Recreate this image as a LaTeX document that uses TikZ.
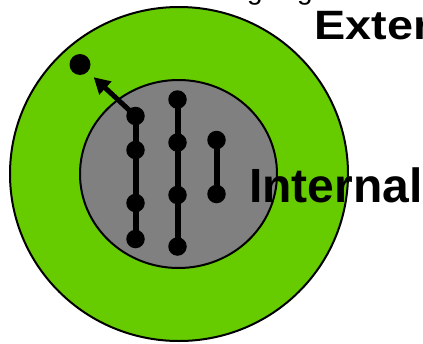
\documentclass[tikz,border=0pt]{standalone}
\usepackage{fontspec}
\setmainfont{Liberation Sans}
\usetikzlibrary{arrows.meta}
\definecolor{ringgreen}{HTML}{66CC00}
\definecolor{coregray}{HTML}{808080}
\tikzset{
  dotnode/.style={circle,fill=black,inner sep=0pt,minimum size=18.5pt},
  bigdot/.style={circle,fill=black,inner sep=0pt,minimum size=21pt},
  chain/.style={line width=6pt,black},
  pointer/.style={line width=5pt,black,-{Triangle[length=16pt,width=17pt]},shorten >=8pt},
  region/.style={line width=2pt,draw=black},
  bigtext/.style={font=\bfseries,inner sep=0pt,anchor=base west},
}
\begin{document}
\begin{tikzpicture}[x=1pt,y=-1pt]
\useasboundingbox (0,0) rectangle (423,343);
% regions
\draw[region,fill=ringgreen] (179,174) ellipse [x radius=169,y radius=167];
\draw[region,fill=coregray] (178.5,174) ellipse [x radius=98.5,y radius=94];
% dots
\node[dotnode] (a1) at (135.5,116) {};
\node[dotnode] (a2) at (135.5,150) {};
\node[dotnode] (a3) at (135.5,203) {};
\node[dotnode] (a4) at (135.5,239) {};
\node[dotnode] (b1) at (177.5,99.5) {};
\node[dotnode] (b2) at (177.5,142.5) {};
\node[dotnode] (b3) at (177.5,195) {};
\node[dotnode] (b4) at (177.5,246.5) {};
\node[dotnode] (c1) at (216.5,140) {};
\node[dotnode] (c2) at (216.5,194) {};
\node[bigdot] (free) at (80,64.5) {};
% chains
\draw[chain] (a1.center) -- (a2.center) -- (a3.center) -- (a4.center);
\draw[chain] (b1.center) -- (b2.center) -- (b3.center) -- (b4.center);
\draw[chain] (c1.center) -- (c2.center);
\draw[pointer] (a1.center) -- (free);
% labels
\node[bigtext,font=\bfseries\fontsize{48}{48}\selectfont] (internal) at (248.8,202.5) {Internal};
\node[bigtext,font=\bfseries\fontsize{41}{41}\selectfont] (extern) at (314.5,39.5) {\scalebox{1.14}[1]{Extern}};
\node[inner sep=0pt,anchor=base west,font=\fontsize{28}{28}\selectfont] (g1) at (247,-1) {g};
\node[inner sep=0pt,anchor=base west,font=\fontsize{28}{28}\selectfont] (g2) at (297,-1) {g};
\end{tikzpicture}
\end{document}
